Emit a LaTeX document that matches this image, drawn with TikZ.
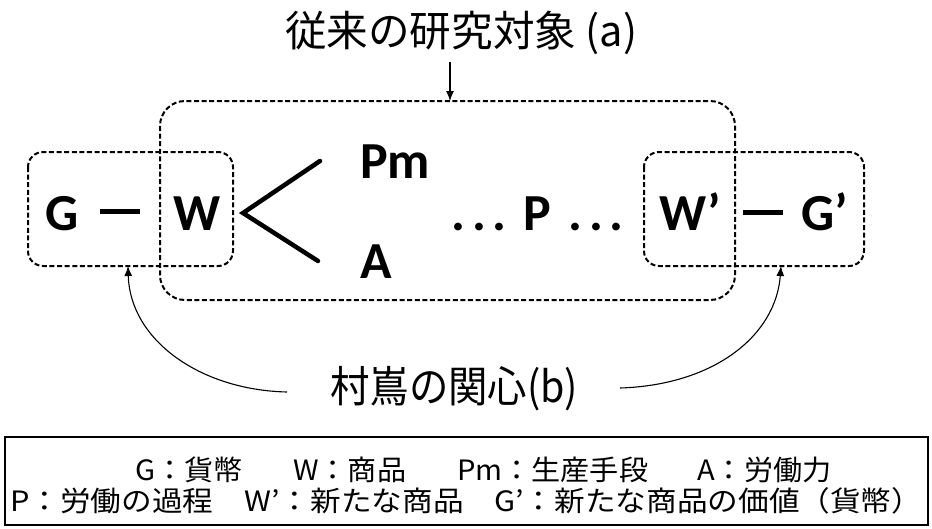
\documentclass[tikz,border=0pt]{standalone}
\usepackage{fontspec}
\usepackage{graphicx}
\setmainfont{Carlito}
\newfontfamily\jp{Noto Sans CJK JP}
\usetikzlibrary{arrows.meta}
\begin{document}
\begin{tikzpicture}[x=1pt,y=-1pt,
  big/.style={font=\fontsize{52}{52}\selectfont\bfseries, inner sep=0pt, anchor=base},
  grp/.style={draw, dash pattern=on 5pt off 2.6pt, line width=2pt},
  jptitle/.style={font=\jp\fontsize{42}{46}\selectfont, inner sep=0pt, anchor=base west},
  jplabel/.style={font=\jp\fontsize{43}{46}\selectfont, inner sep=0pt, anchor=base west},
  jpleg/.style={font=\jp\fontsize{28}{30}\selectfont, inner sep=0pt, anchor=base west},
  arr/.style={-{Latex[length=10pt,width=8pt]}, line width=1.1pt},
  bar/.style={line width=5pt},
  fork/.style={line width=4.5pt, line cap=round, line join=miter}]
\useasboundingbox (0,0) rectangle (932,528);

% group boxes
\draw[grp, rounded corners=25pt] (160,101) rectangle (735,300);
\draw[grp, rounded corners=15pt] (28,152) rectangle (233,266);
\draw[grp, rounded corners=15pt] (644,152) rectangle (864,266);

% formula
\node[big] (G)  at (62,230)  {G};
\node[big] (W)  at (197,230) {W};
\node[big] (Pm) at (395,178) {Pm};
\node[big] (A)  at (376,278) {A};
\node[big] (dl) at (479,230) {.\kern7pt.\kern7pt.};
\node[big] (P)  at (537,230) {P};
\node[big] (dr) at (596,230) {.\kern7pt.\kern7pt.};
\node[big] (Wp) at (690,230) {W’};
\node[big] (Gp) at (825,230) {G’};

\coordinate (d1a) at (100,211); \coordinate (d1b) at (140,211);
\draw[bar] (d1a) -- (d1b);
\coordinate (d2a) at (743,212); \coordinate (d2b) at (783,212);
\draw[bar] (d2a) -- (d2b);

\coordinate (fv) at (243,213);
\coordinate (fu) at (320,161);
\coordinate (fd) at (318,261);
\draw[fork] (fu) -- (fv) -- (fd);

% title
\node[jptitle] (title) at (285,46) {\resizebox{352pt}{\height}{従来の研究対象 (a)}};
\coordinate (ta) at (450,62);
\coordinate (bigtop) at (450,101);
\draw[arr] (ta) -- (bigtop);

% label b
\node[jplabel] (lab) at (330,402) {\resizebox{248pt}{\height}{村嶌の関心(b)}};
\coordinate (lbs) at (287,392);
\coordinate (lbe) at (128,266);
\draw[arr] (lbs) .. controls (200,390) and (130,340) .. (lbe);
\coordinate (rbs) at (620,388);
\coordinate (rbe) at (781,266);
\draw[arr] (rbs) .. controls (715,385) and (776,335) .. (rbe);

% legend
\draw[line width=1.4pt] (5,437) rectangle (928,525);
\node[jpleg] (l1a) at (135,480) {\scalebox{1.04}[1]{G：貨幣}};
\node[jpleg] (l1b) at (293,480) {\scalebox{1.04}[1]{W：商品}};
\node[jpleg] (l1c) at (457,480) {\scalebox{1.04}[1]{Pm：生産手段}};
\node[jpleg] (l1d) at (697,480) {\scalebox{1.04}[1]{A：労働力}};
\node[jpleg] (l2)  at (10,511)  {\resizebox{912pt}{\height}{P：労働の過程　W’：新たな商品　G’：新たな商品の価値（貨幣）}};
\end{tikzpicture}
\end{document}
